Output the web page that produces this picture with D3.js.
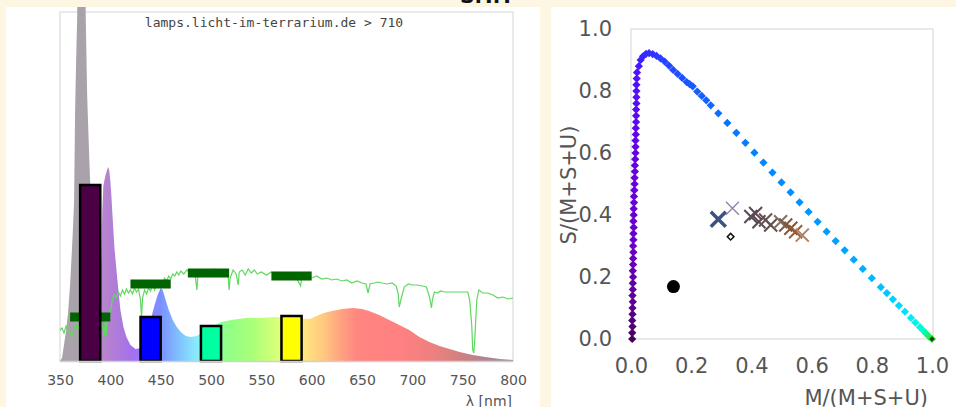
<!DOCTYPE html>
<html>
<head>
<meta charset="utf-8">
<script src="https://cdn.jsdelivr.net/npm/d3@7"></script>
<style>
  body { margin: 0; background: #fdf6e3; }
  svg { display: block; }
</style>
</head>
<body>
<svg id="chart" width="956" height="407"></svg>
<script>
// ---- left panel data: lamp spectrum (relative units) ----
var spectrum = [[350,0],[352,3],[356,30],[358,48],[360,76],[362,114],[363,135],[364,160],[365,250],[366,300],
  [367,340],[368,420],[370,550],[372,600],[374,480],[375,380],[376,320],[377,265],[378,235],[379,205],
  [380,178],[383,140],[386,110],[389,70],[391,100],[392,150],[393,175],[395,185],[397,192],[398,194],
  [399,190],[400,180],[401,166],[402,148],[404,114],[407,81],[410,51],[413,34],[416,24],[420,16],
  [425,12],[430,13],[435,23],[440,41],[444,56],[447,66],[450,73],[452,71],[455,61],[458,51],
  [462,41],[466,34],[470,29],[475,25],[480,24],[486,25],[490,28],[500,34],[510,39],[520,41],
  [535,43],[550,43],[565,44],[580,43],[598,42],[605,45],[612,48],[620,50],[630,52],[641,53],
  [650,52],[657,50],[667,46],[677,41],[687,36],[697,31],[707,24],[717,19],[727,15],[737,12],
  [747,9],[760,6],[773,4],[787,2],[800,1]];

// sunlight / reference curve (green line)
var sunlight = [[350,31],[352,33],[354,28],[356,35],[358,30],[360,28],[362,25],[364,33],[366,36],[368,31],
  [370,39],[372,35],[374,43],[376,39],[378,42],[380,41],[382,44],[384,40],[386,43],[388,39],
  [390,45],[393,31],[394,24],[395,43],[396,25],[397,46],[400,49],[402,61],[404,67],[406,63],
  [408,69],[410,65],[412,71],[414,67],[416,72],[418,68],[420,71],[422,67],[424,73],[426,69],
  [428,72],[430,61],[431,44],[432,63],[434,71],[436,67],[438,73],[440,70],[442,77],[444,71],
  [446,78],[448,74],[450,79],[452,77],[454,83],[456,80],[458,85],[460,82],[462,87],[464,85],
  [466,89],[468,86],[470,90],[473,87],[476,91],[479,88],[482,91],[484,88],[486,71],[487,86],
  [490,90],[493,87],[496,91],[500,89],[503,92],[506,88],[510,91],[514,89],[517,85],[518,71],
  [519,83],[522,91],[525,87],[527,76],[528,89],[531,91],[534,86],[537,92],[540,88],[543,91],
  [546,87],[550,89],[555,86],[560,89],[565,85],[570,87],[575,84],[580,86],[585,83],[589,75],
  [590,83],[595,84],[600,83],[605,85],[610,82],[615,83],[620,81],[625,82],[630,80],[635,81],
  [640,78],[645,80],[650,78],[654,77],[656,68],[658,77],[662,78],[666,79],[670,78],[675,77],
  [680,78],[684,75],[686,67],[687,54],[689,63],[692,74],[696,77],[700,76],[705,76],[710,75],
  [714,74],[717,64],[719,53],[720,62],[722,69],[725,68],[728,70],[732,69],[736,69],[740,69],
  [745,69],[750,69],[755,69],[757,61],[759,36],[760,11],[761,8],[762,21],[763,41],[764,61],
  [766,71],[770,68],[775,68],[780,66],[785,63],[790,64],[795,62],[800,63]];

// photoreceptor bars
var barFrom = [370, 430, 490, 570];
var barTo = [390, 450, 510, 590];
var barValue = [176, 44, 35, 45];
var barColor = ["#4b0045", "#0000ff", "#00ffa0", "#ffff00"];

// dark green bands
var bandFrom = [360, 420, 477, 560];
var bandTo = [400, 460, 518, 600];
var bandValue = [44, 77, 88, 85];

var nmTicks = [350, 400, 450, 500, 550, 600, 650, 700, 750, 800];

// ---- right panel data: colour triangle ----
var locus = [[0.004,0],[0.004,0.02],[0.005,0.04],[0.004,0.06],[0.005,0.08],[0.005,0.10],[0.006,0.12],
  [0.005,0.14],[0.006,0.16],[0.006,0.18],[0.007,0.20],[0.006,0.22],[0.007,0.24],[0.007,0.26],
  [0.008,0.28],[0.007,0.30],[0.008,0.32],[0.008,0.34],[0.009,0.36],[0.008,0.38],[0.009,0.40],
  [0.009,0.42],[0.010,0.44],[0.010,0.46],[0.011,0.48],[0.012,0.50],[0.012,0.52],[0.013,0.54],
  [0.013,0.56],[0.014,0.58],[0.015,0.60],[0.015,0.62],[0.015,0.64],[0.016,0.66],[0.016,0.68],
  [0.017,0.70],[0.017,0.72],[0.017,0.74],[0.018,0.76],[0.018,0.78],[0.018,0.80],[0.018,0.82],
  [0.019,0.84],[0.020,0.86],[0.026,0.88],[0.032,0.90],[0.040,0.912],[0.050,0.92],[0.060,0.922],
  [0.072,0.919],[0.085,0.913],[0.098,0.905],[0.112,0.895],[0.126,0.882],[0.140,0.868],[0.155,0.855],
  [0.170,0.842],[0.185,0.829],[0.195,0.822],[0.205,0.815],[0.22,0.798],[0.235,0.784],[0.25,0.770],
  [0.265,0.754],[0.29,0.728],[0.32,0.697],[0.35,0.665],[0.38,0.633],[0.41,0.601],[0.44,0.569],
  [0.47,0.537],[0.50,0.505],[0.53,0.473],[0.56,0.441],[0.59,0.41],[0.62,0.378],[0.65,0.346],
  [0.68,0.316],[0.71,0.286],[0.74,0.256],[0.77,0.226],[0.80,0.196],[0.83,0.167],[0.85,0.148],
  [0.87,0.128],[0.89,0.108],[0.91,0.088],[0.93,0.068],[0.945,0.053],[0.96,0.038],[0.97,0.028],
  [0.98,0.018],[0.99,0.008],[1.0,0.0]];

var lampPoint = [0.141, 0.169];
var whitePoint = [0.331, 0.330];
var crossM = [0.29, 0.337, 0.398, 0.414, 0.425, 0.447, 0.464, 0.497, 0.514, 0.531, 0.547, 0.569];
var crossS = [0.386, 0.422, 0.395, 0.405, 0.378, 0.384, 0.368, 0.378, 0.368, 0.357, 0.346, 0.335];
var crossColor = ["#3d5280", "#8c80aa", "#5c4a5c", "#604a58", "#5a4850", "#6a5050", "#5e4e4a",
  "#807068", "#7a5c48", "#8a5632", "#985e34", "#b08060"];

var triTicks = [0, 0.2, 0.4, 0.6, 0.8, 1.0];

var svg = d3.select("#chart");

// white panels
svg.append("rect").attr("x", 6).attr("y", 7).attr("width", 534).attr("height", 400).attr("fill", "#fff");
svg.append("rect").attr("x", 551).attr("y", 7).attr("width", 405).attr("height", 400).attr("fill", "#fff");

// heading cut off at the top
svg.append("text")
  .attr("x", 487).attr("y", 3)
  .attr("text-anchor", "middle")
  .attr("font-family", "DejaVu Sans").attr("font-weight", "bold").attr("font-size", 20)
  .attr("fill", "#111")
  .text("S.T.T");

// ================= left: spectrum =================
var xL = d3.scaleLinear().domain([350, 800]).range([60, 513]);
var yL = d3.scaleLinear().domain([0, 350]).range([361, 11]);

var defs = svg.append("defs");
defs.append("clipPath").attr("id", "leftClip")
  .append("rect").attr("x", 6).attr("y", 7).attr("width", 534).attr("height", 400);

var gradStops = [[350,"#aaa2ab"],[387,"#aaa2ab"],[391,"#b886cc"],[400,"#b47fd2"],[420,"#a472ea"],
  [432,"#9878ff"],[450,"#7b90ff"],[468,"#80c0ff"],[484,"#88e8ff"],[500,"#88ffc8"],[515,"#90ff88"],
  [540,"#a8ff78"],[565,"#d8ff78"],[582,"#f4ff80"],[596,"#ffe080"],[612,"#ffc880"],[630,"#ffa080"],
  [645,"#ff8680"],[690,"#ff8080"],[725,"#ea8080"],[750,"#d08080"],[770,"#b48490"],[790,"#a09098"],[800,"#9c9898"]];
var grad = defs.append("linearGradient").attr("id", "specGrad")
  .attr("gradientUnits", "userSpaceOnUse")
  .attr("x1", xL(350)).attr("x2", xL(800)).attr("y1", 0).attr("y2", 0);
gradStops.forEach(function(d) {
  grad.append("stop").attr("offset", (d[0] - 350) / 450).attr("stop-color", d[1]);
});

// frame
svg.append("rect")
  .attr("x", xL(350)).attr("y", 12)
  .attr("width", xL(800) - xL(350)).attr("height", yL(0) - 12)
  .attr("fill", "none").attr("stroke", "#e2e2e2").attr("stroke-width", 1.5);

var left = svg.append("g").attr("clip-path", "url(#leftClip)");

left.append("path")
  .datum(spectrum)
  .attr("fill", "url(#specGrad)")
  .attr("d", d3.area()
    .x(function(d) { return xL(d[0]); })
    .y0(yL(0))
    .y1(function(d) { return yL(d[1]); }));

left.append("path")
  .datum(sunlight)
  .attr("fill", "none")
  .attr("stroke", "#5fd85f")
  .attr("stroke-width", 1.2)
  .attr("d", d3.line()
    .x(function(d) { return xL(d[0]); })
    .y(function(d) { return yL(d[1]); }));

left.selectAll(".band")
  .data(bandValue)
  .enter().append("rect")
  .attr("class", "band")
  .attr("x", function(d, i) { return xL(bandFrom[i]); })
  .attr("width", function(d, i) { return xL(bandTo[i]) - xL(bandFrom[i]); })
  .attr("y", function(d) { return yL(d) - 4.5; })
  .attr("height", 9)
  .attr("fill", "#006400");

left.selectAll(".bar")
  .data(barValue)
  .enter().append("rect")
  .attr("class", "bar")
  .attr("x", function(d, i) { return xL(barFrom[i]); })
  .attr("width", function(d, i) { return xL(barTo[i]) - xL(barFrom[i]); })
  .attr("y", function(d) { return yL(d); })
  .attr("height", function(d) { return yL(0) - yL(d); })
  .attr("fill", function(d, i) { return barColor[i]; })
  .attr("stroke", "#000")
  .attr("stroke-width", 2.5);

svg.append("line")
  .attr("x1", xL(350)).attr("x2", xL(800))
  .attr("y1", yL(0) + 0.5).attr("y2", yL(0) + 0.5)
  .attr("stroke", "#d0d0d0").attr("stroke-width", 1.5);

svg.append("text")
  .attr("x", 274).attr("y", 27)
  .attr("text-anchor", "middle")
  .attr("font-family", "DejaVu Sans Mono").attr("font-size", 13)
  .attr("fill", "#444")
  .text("lamps.licht-im-terrarium.de > 710");

var axL = svg.append("g")
  .attr("transform", "translate(0," + yL(0) + ")")
  .call(d3.axisBottom(xL).tickValues(nmTicks).tickSize(0).tickPadding(14));
axL.select(".domain").remove();
axL.selectAll("text")
  .attr("font-family", "DejaVu Sans").attr("font-size", 14).attr("fill", "#555");

svg.append("text")
  .attr("x", 512).attr("y", 406)
  .attr("text-anchor", "end")
  .attr("font-family", "DejaVu Sans").attr("font-size", 14).attr("fill", "#555")
  .text("λ [nm]");

// ================= right: colour triangle =================
var xR = d3.scaleLinear().domain([0, 1]).range([631, 932]);
var yR = d3.scaleLinear().domain([0, 1]).range([339, 29]);

svg.append("rect")
  .attr("x", xR(0)).attr("y", yR(1))
  .attr("width", xR(1) - xR(0) + 1).attr("height", yR(0) - yR(1))
  .attr("fill", "none").attr("stroke", "#e2e2e2").attr("stroke-width", 1.5);

var vertColor = d3.scaleLinear()
  .domain([0, 0.1, 0.3, 0.6, 0.85, 0.92])
  .range(["#48005a", "#5c0090", "#6800c8", "#6400e8", "#5010ff", "#3a20ff"]);
var lineColor = d3.scaleLinear()
  .domain([0.03, 0.1, 0.2, 0.3, 0.45, 0.6, 0.75, 0.85, 0.92, 0.97, 1.0])
  .range(["#3a20ff", "#2a40ff", "#1858ff", "#0a70ff", "#0088ff", "#0095ff", "#00aaff",
          "#00c8ff", "#00e8ff", "#00ffd0", "#20ee20"]);

var diamond = d3.symbol().type(d3.symbolSquare).size(34);

svg.append("g").selectAll("path")
  .data(locus)
  .enter().append("path")
  .attr("d", diamond)
  .attr("transform", function(d) {
    return "translate(" + xR(d[0]) + "," + yR(d[1]) + ") rotate(45)";
  })
  .attr("fill", function(d) { return d[0] < 0.03 ? vertColor(d[1]) : lineColor(d[0]); });

// end marker of the locus
svg.append("path")
  .attr("d", d3.symbol().type(d3.symbolSquare).size(14))
  .attr("transform", "translate(" + xR(1) + "," + yR(0) + ") rotate(45)")
  .attr("fill", "#333");

// lamp point
svg.append("circle")
  .attr("cx", xR(lampPoint[0])).attr("cy", yR(lampPoint[1]))
  .attr("r", 6.5).attr("fill", "#000");

// white point (open diamond)
svg.append("path")
  .attr("d", d3.symbol().type(d3.symbolSquare).size(22))
  .attr("transform", "translate(" + xR(whitePoint[0]) + "," + yR(whitePoint[1]) + ") rotate(45)")
  .attr("fill", "#fff").attr("stroke", "#111").attr("stroke-width", 1.5);

// crosses
svg.append("g").selectAll("path")
  .data(crossM)
  .enter().append("path")
  .attr("d", function(d, i) {
    var a = i === 0 ? 7.5 : 6.5;
    return "M" + (-a) + "," + (-a) + "L" + a + "," + a + "M" + (-a) + "," + a + "L" + a + "," + (-a);
  })
  .attr("transform", function(d, i) { return "translate(" + xR(d) + "," + yR(crossS[i]) + ")"; })
  .attr("fill", "none")
  .attr("stroke", function(d, i) { return crossColor[i]; })
  .attr("stroke-width", function(d, i) { return i === 0 ? 3.5 : (i === 1 ? 1.3 : 2); });

var axRx = svg.append("g")
  .attr("transform", "translate(0," + yR(0) + ")")
  .call(d3.axisBottom(xR).tickValues(triTicks).tickFormat(d3.format(".1f")).tickSize(0).tickPadding(19));
axRx.select(".domain").remove();
axRx.selectAll("text")
  .attr("font-family", "DejaVu Sans").attr("font-size", 21).attr("fill", "#555");

var axRy = svg.append("g")
  .attr("transform", "translate(" + xR(0) + ",0)")
  .call(d3.axisLeft(yR).tickValues(triTicks).tickFormat(d3.format(".1f")).tickSize(0).tickPadding(19));
axRy.select(".domain").remove();
axRy.selectAll("text")
  .attr("font-family", "DejaVu Sans").attr("font-size", 21).attr("fill", "#555");

svg.append("text")
  .attr("x", 928).attr("y", 405)
  .attr("text-anchor", "end")
  .attr("font-family", "DejaVu Sans").attr("font-size", 21).attr("fill", "#555")
  .text("M/(M+S+U)");

svg.append("text")
  .attr("transform", "translate(576,185) rotate(-90)")
  .attr("text-anchor", "middle")
  .attr("font-family", "DejaVu Sans").attr("font-size", 21).attr("fill", "#555")
  .text("S/(M+S+U)");
</script>
</body>
</html>
